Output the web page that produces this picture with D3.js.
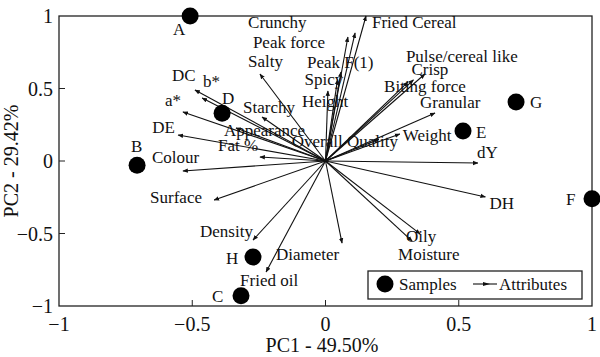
<!DOCTYPE html>
<html>
<head>
<meta charset="utf-8">
<script src="https://cdn.jsdelivr.net/npm/d3@7"></script>
<style>
  html, body { margin: 0; padding: 0; background: #fff; }
  svg { display: block; font-family: "Liberation Serif", "Times New Roman", serif; }
</style>
</head>
<body>
<div id="chart"></div>
<script>
// sample scores (PC1, PC2)
const sampleNames = ['A', 'B', 'C', 'D', 'E', 'F', 'G', 'H'];
const samplePC1 = [-0.508, -0.707, -0.317, -0.388, 0.516, 1.0, 0.715, -0.272];
const samplePC2 = [1.0, -0.03, -0.93, 0.33, 0.207, -0.26, 0.407, -0.662];

// attribute loadings (PC1, PC2)
const attrNames = ['Fried Cereal', 'Crunchy', 'Peak force', 'Peak F(1)', 'Spicy', 'Height', 'Salty',
  'Starchy', 'Appearance', 'Fat%', 'DC', 'b*', 'a*', 'DE', 'Colour', 'Surface', 'Density', 'Fried oil',
  'Diameter', 'Moisture', 'Oily', 'DH', 'dY', 'Weight', 'Granular', 'Biting force', 'Crisp',
  'Pulse/cereal like', 'Overall Quality'];
const attrPC1 = [0.152, 0.111, 0.084, 0.058, 0.045, 0.009, -0.246,
  -0.238, -0.336, -0.246, -0.49, -0.463, -0.535, -0.553, -0.535, -0.418, -0.272, -0.223,
  0.062, 0.325, 0.355, 0.6, 0.572, 0.279, 0.411, 0.31, 0.33,
  0.373, 0.2];
const attrPC2 = [1.0, 0.883, 0.855, 0.614, 0.56, 0.483, 0.6,
  0.303, 0.228, 0.028, 0.49, 0.434, 0.338, 0.179, -0.069, -0.269, -0.545, -0.765,
  -0.566, -0.552, -0.503, -0.248, -0.014, 0.186, 0.331, 0.545, 0.56,
  0.6, 0.15];

const xTicks = [-1, -0.5, 0, 0.5, 1];
const yTicks = [-1, -0.5, 0, 0.5, 1];

// label placement (pixel offsets from the arrow tip / sample point)
const attrLabelOffset = {
  'Fried Cereal': [6, 12], 'Crunchy': [-107, -5], 'Peak force': [-95, 11], 'Peak F(1)': [-34, -4],
  'Spicy': [-33, 5], 'Height': [-26, 16], 'Salty': [-12, -7], 'Starchy': [-19, -4],
  'Appearance': [-12, 8], 'Fat%': [-42, -6], 'DC': [-23, -9], 'b*': [1, -11], 'a*': [-18, -6],
  'DE': [-26, -2], 'Colour': [-31, -8], 'Surface': [-64, 3], 'Density': [-53, -3],
  'Fried oil': [-26, 14], 'Diameter': [-66, 17], 'Moisture': [-14, 19], 'Oily': [-14, 8],
  'DH': [4, 12], 'dY': [-1, -5], 'Weight': [3, 7], 'Granular': [-15, -5], 'Biting force': [-24, 10],
  'Crisp': [-2, -5], 'Pulse/cereal like': [-19, -12], 'Overall Quality': [-87, 8],
};
const sampleLabelOffset = {
  A: [-17, 19], B: [-6, -13], C: [-29, 6], D: [0, -9], E: [13, 7], F: [-26, 6], G: [14, 6], H: [-27, 7],
};

const W = 600, H = 357;
const x = d3.scaleLinear().domain([-1, 1]).range([59, 592]);
const y = d3.scaleLinear().domain([-1, 1]).range([306, 16]);

const svg = d3.select('#chart').append('svg').attr('width', W).attr('height', H);

svg.append('defs').append('marker')
  .attr('id', 'tip')
  .attr('viewBox', '0 0 10 10')
  .attr('refX', 9).attr('refY', 5)
  .attr('markerWidth', 5).attr('markerHeight', 5)
  .attr('orient', 'auto')
  .append('path').attr('d', 'M0,1 L10,5 L0,9 Z').attr('fill', '#111');

// frame
svg.append('rect')
  .attr('x', x(-1)).attr('y', y(1))
  .attr('width', x(1) - x(-1)).attr('height', y(-1) - y(1))
  .attr('fill', 'none').attr('stroke', '#222').attr('stroke-width', 1.3);

// inward ticks
svg.append('g').selectAll('line').data(xTicks.slice(1, -1)).join('line')
  .attr('x1', (d) => x(d)).attr('x2', (d) => x(d))
  .attr('y1', y(-1)).attr('y2', y(-1) - 6)
  .attr('stroke', '#222');
svg.append('g').selectAll('line').data(yTicks.slice(1, -1)).join('line')
  .attr('y1', (d) => y(d)).attr('y2', (d) => y(d))
  .attr('x1', x(-1)).attr('x2', x(-1) + 6)
  .attr('stroke', '#222');

const fmt = (d) => (d < 0 ? '\u2212' : '') + Math.abs(d);

svg.append('g').selectAll('text').data(xTicks).join('text')
  .attr('x', (d) => x(d)).attr('y', 331)
  .attr('text-anchor', 'middle').attr('font-size', 20).attr('fill', '#111')
  .text(fmt);
svg.append('g').selectAll('text').data(yTicks).join('text')
  .attr('x', 53).attr('y', (d) => y(d) + 7)
  .attr('text-anchor', 'end').attr('font-size', 20).attr('fill', '#111')
  .text(fmt);

svg.append('text')
  .attr('x', 322).attr('y', 352)
  .attr('text-anchor', 'middle').attr('font-size', 20).attr('fill', '#111')
  .text('PC1 - 49.50%');
svg.append('text')
  .attr('transform', `translate(18,${y(0)}) rotate(-90)`)
  .attr('text-anchor', 'middle').attr('font-size', 20).attr('fill', '#111')
  .text('PC2 - 29.42%');

// attribute vectors
const attrs = attrNames.map((name, i) => ({ name, px: attrPC1[i], py: attrPC2[i] }));
const vec = svg.append('g');
vec.selectAll('line').data(attrs).join('line')
  .attr('x1', x(0)).attr('y1', y(0))
  .attr('x2', (d) => x(d.px)).attr('y2', (d) => y(d.py))
  .attr('stroke', '#111').attr('stroke-width', 1.1)
  .attr('marker-end', 'url(#tip)');
vec.selectAll('text').data(attrs).join('text')
  .attr('x', (d) => x(d.px) + attrLabelOffset[d.name][0])
  .attr('y', (d) => y(d.py) + attrLabelOffset[d.name][1])
  .attr('font-size', 17).attr('fill', '#111')
  .text((d) => (d.name === 'Fat%' ? 'Fat %' : d.name));

// samples
const samples = sampleNames.map((name, i) => ({ name, px: samplePC1[i], py: samplePC2[i] }));
const smp = svg.append('g');
smp.selectAll('circle').data(samples).join('circle')
  .attr('cx', (d) => x(d.px)).attr('cy', (d) => y(d.py))
  .attr('r', 8.5).attr('fill', '#000');
smp.selectAll('text').data(samples).join('text')
  .attr('x', (d) => x(d.px) + sampleLabelOffset[d.name][0])
  .attr('y', (d) => y(d.py) + sampleLabelOffset[d.name][1])
  .attr('font-size', 17).attr('fill', '#111')
  .text((d) => d.name);

// legend
const lg = svg.append('g').attr('transform', 'translate(368,271)');
lg.append('rect').attr('width', 214).attr('height', 28)
  .attr('fill', '#fff').attr('stroke', '#222').attr('stroke-width', 1.3);
lg.append('circle').attr('cx', 17).attr('cy', 13).attr('r', 8.5).attr('fill', '#000');
lg.append('text').attr('x', 31).attr('y', 19).attr('font-size', 17).attr('fill', '#111').text('Samples');
lg.append('line').attr('x1', 105).attr('x2', 129).attr('y1', 13).attr('y2', 13)
  .attr('stroke', '#111').attr('stroke-width', 1.1);
lg.append('path').attr('d', 'M115,11 L122,13 L115,15 Z').attr('fill', '#111');
lg.append('text').attr('x', 131).attr('y', 19).attr('font-size', 17).attr('fill', '#111').text('Attributes');
</script>
</body>
</html>
